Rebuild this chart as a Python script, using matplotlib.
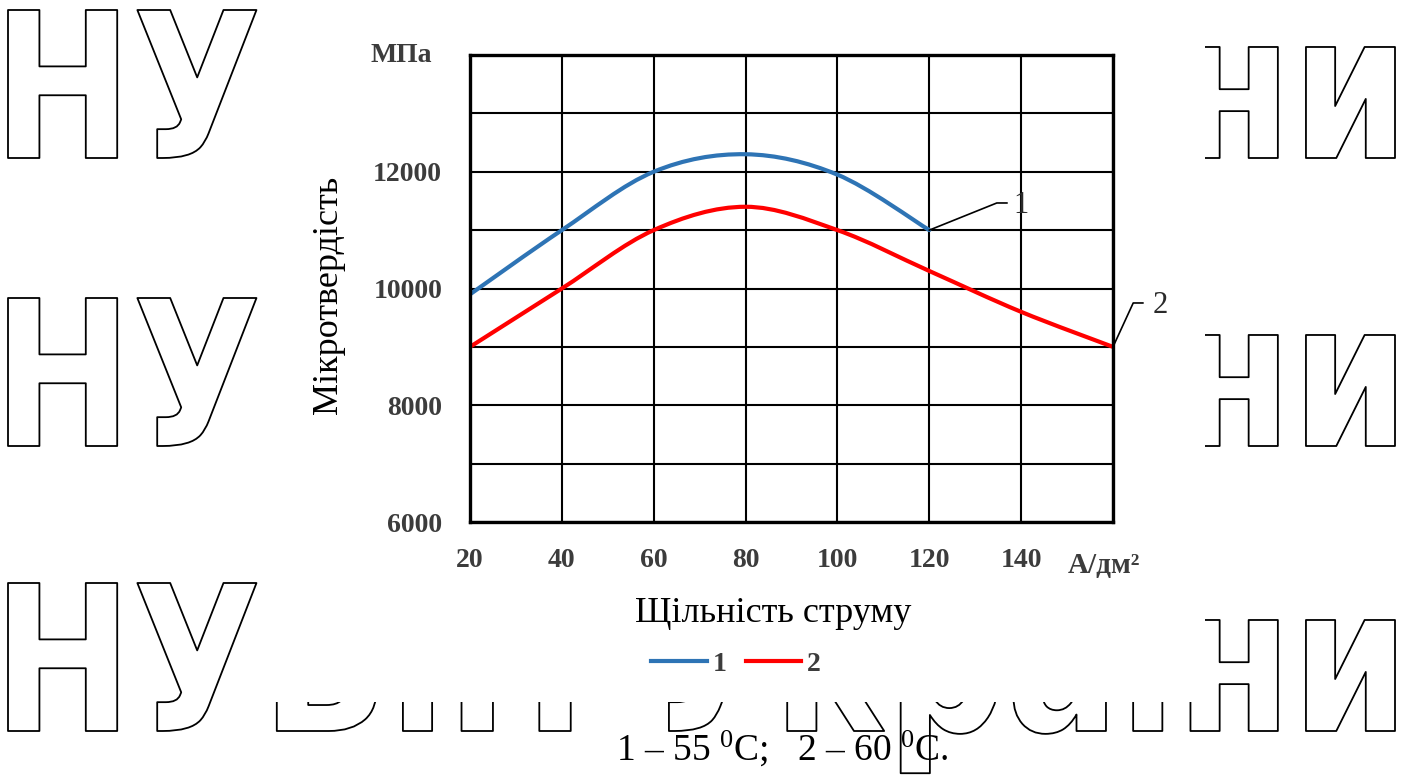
import numpy as np
import matplotlib
matplotlib.use("Agg")
import matplotlib.pyplot as plt
from matplotlib.path import Path
from matplotlib.patches import PathPatch, Rectangle
from matplotlib.textpath import TextPath
from matplotlib.font_manager import FontProperties
from matplotlib.transforms import Affine2D
from matplotlib.lines import Line2D

plt.rcParams['font.family'] = ['Liberation Serif', 'DejaVu Serif']
plt.rcParams['mathtext.fontset'] = 'custom'
plt.rcParams['mathtext.rm'] = 'Liberation Serif'
plt.rcParams['mathtext.it'] = 'Liberation Serif:italic'

# current density, A/dm2
x1 = [20, 40, 60, 80, 100, 120]
hv1 = [9900, 11000, 12000, 12300, 11950, 11000]   # 55 C
x2 = [20, 40, 60, 80, 100, 120, 140, 160]
hv2 = [9000, 10000, 11000, 11400, 11000, 10300, 9600, 9000]   # 60 C

xticks = [20, 40, 60, 80, 100, 120, 140, 160]
xticklabels = ['20', '40', '60', '80', '100', '120', '140', '']
yticks = [6000, 8000, 10000, 12000]
series_names = ['1', '2']
series_colors = ['#2e74b5', '#ff0000']
caption = r"1 – 55 $^0$C;   2 – 60 $^0$C."
watermark = "НУБіП України"

W, H = 1407, 776
tick_grey = '#3c3c3c'


def smooth_path(xs, ys):
    # Catmull-Rom style bezier through the points (like a smoothed line)
    pts = np.column_stack([xs, ys]).astype(float)
    p = np.vstack([pts[0], pts, pts[-1]])
    verts = [pts[0]]
    codes = [Path.MOVETO]
    for i in range(1, len(p) - 2):
        c1 = p[i] + (p[i + 1] - p[i - 1]) / 6.0
        c2 = p[i + 1] - (p[i + 2] - p[i]) / 6.0
        verts += [c1, c2, p[i + 1]]
        codes += [Path.CURVE4] * 3
    return Path(verts, codes)


fig = plt.figure(figsize=(W / 100, H / 100), dpi=100)

# background layer in pixel coordinates
bg = fig.add_axes([0, 0, 1, 1])
bg.set_xlim(0, W)
bg.set_ylim(H, 0)
bg.axis('off')

wm_font = FontProperties(family='DejaVu Sans', weight='bold')
tp = TextPath((0, 0), watermark, size=100, prop=wm_font)
cap_h = TextPath((0, 0), "Н", size=100, prop=wm_font).get_extents().height
ext = tp.get_extents()
sy = 148 / cap_h
sx = (1395 - 8) / ext.width
for base in [158, 446, 731]:
    tr = Affine2D().translate(-ext.x0, 0).scale(sx, -sy).translate(8, base)
    bg.add_patch(PathPatch(tr.transform_path(tp), fc='white', ec='black', lw=1.3,
                           joinstyle='round', zorder=1))

bg.add_patch(Rectangle((258, 0), 1205 - 258, 702, fc='white', ec='none', zorder=2))

ax = fig.add_axes([470 / W, 1 - 522 / H, (1113 - 470) / W, (522 - 55) / H])
ax.set_xlim(20, 160)
ax.set_ylim(6000, 14000)

for xs, ys, c in zip([x1, x2], [hv1, hv2], series_colors):
    ax.add_patch(PathPatch(smooth_path(xs, ys), fc='none', ec=c, lw=3.0, zorder=3,
                           capstyle='round'))

ax.set_xticks(xticks)
ax.set_xticklabels(xticklabels)
ax.set_yticks(yticks)
ax.set_yticks(np.arange(6000, 14001, 1000), minor=True)
ax.tick_params(which='both', length=0)
ax.tick_params(axis='y', pad=20, labelsize=20, labelcolor=tick_grey)
ax.tick_params(axis='x', pad=19, labelsize=20, labelcolor=tick_grey)
for lab in ax.get_xticklabels() + ax.get_yticklabels():
    lab.set_fontweight('bold')
ax.grid(True, which='both', color='black', lw=1.5)
ax.set_axisbelow(True)
for sp in ax.spines.values():
    sp.set_linewidth(2.4)
    sp.set_color('black')
    sp.set_zorder(4)

ax.set_ylabel('Мікротвердість', fontsize=26)
ax.yaxis.set_label_coords(-0.194, 0.486)
ax.set_xlabel('Щільність струму', fontsize=26)
ax.xaxis.set_label_coords(0.471, -0.16)

ax.text(-0.059, 14000, 'МПа', transform=ax.get_yaxis_transform(), ha='right', va='center',
        fontsize=20, fontweight='bold', color=tick_grey)
ax.text(0.93, -0.094, 'А/дм²', transform=ax.transAxes, ha='left', va='center',
        fontsize=21, fontweight='bold', color=tick_grey)

# leaders to the curve ends
ax.plot([120, 134.7, 136.9], [11000, 11465, 11465], color='black', lw=1.2, clip_on=False, zorder=5)
ax.text(140.0, 11430, series_names[0], ha='center', va='center', fontsize=22,
        color='#2a2a2a', clip_on=False)
ax.plot([160, 164.4, 166.5], [9000, 9752, 9752], color='black', lw=1.2, clip_on=False, zorder=5)
ax.text(170.2, 9717, series_names[1], ha='center', va='center', fontsize=22,
        color='#2a2a2a', clip_on=False)

handles = [Line2D([], [], color=c, lw=3) for c in series_colors]
leg = fig.legend(handles, series_names, loc='center', bbox_to_anchor=(736 / W, 1 - 664 / H),
                 ncol=2, frameon=False, handlelength=2.0, handletextpad=0.2,
                 columnspacing=0.7, prop={'size': 20, 'weight': 'bold'})
for t in leg.get_texts():
    t.set_color(tick_grey)

bg.text(782, 748, caption, ha='center', va='center', fontsize=27, color='black', zorder=5)

fig.savefig('out.png', dpi=100)
